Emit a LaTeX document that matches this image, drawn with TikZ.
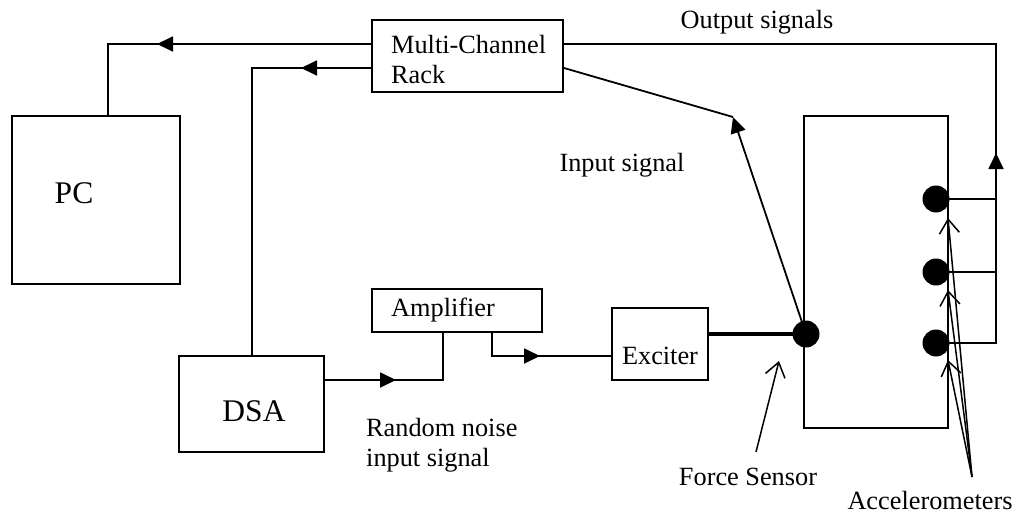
\documentclass[tikz,border=0pt]{standalone}
\usepackage{fontspec}
\setmainfont{Liberation Serif}
\usetikzlibrary{arrows.meta,decorations.markings,calc}
\begin{document}
\begin{tikzpicture}[x=1pt,y=-1pt,
  box/.style={draw,line width=2pt,inner sep=0pt},
  txt/.style={inner sep=0pt,font=\fontsize{26.3}{30}\selectfont},
  bigtxt/.style={inner sep=0pt,font=\fontsize{31.5}{36}\selectfont},
  wire/.style={line width=1.8pt},
  tri/.tip={Triangle[length=16pt,width=15pt]},
  midarrow/.style={postaction={decorate},decoration={markings,mark=at position #1 with {\arrow{tri}}}},
  dot/.style={circle,fill=black,inner sep=0pt,minimum size=27pt},
  openarr/.style={line width=1.5pt,-{Straight Barb[length=14pt,width=20pt,line width=1.5pt]}}
]
\useasboundingbox (0,0) rectangle (1018,515);
% boxes
\node[box,minimum width=168pt,minimum height=168pt] (pc) at (96,200) {};
\node[box,minimum width=191pt,minimum height=72pt] (mcr) at (467.5,56) {};
\node[box,minimum width=145pt,minimum height=96pt] (dsa) at (251.5,404) {};
\node[box,minimum width=170pt,minimum height=43pt] (amp) at (457,310.5) {};
\node[box,minimum width=96pt,minimum height=72pt] (exc) at (660,344) {};
\node[box,minimum width=144pt,minimum height=312pt] (struct) at (876,272) {};
% texts
\node[bigtxt] (pct) at (74,193) {PC};
\node[bigtxt] (dsat) at (254,411) {DSA};
\node[txt,anchor=west,align=left] (mcrt) at (391,59) {Multi-Channel\\Rack};
\node[txt,anchor=west] (ampt) at (391,310) {Amplifier};
\node[txt] (exct) at (660,356) {Exciter};
\node[txt] (outt) at (757,22) {Output signals};
\node[txt] (int) at (622,165) {Input signal};
\node[txt,anchor=west,align=left] (rnt) at (366,445) {Random noise\\input signal};
\node[txt] (fst) at (748,477) {Force Sensor};
\node[txt] (acct) at (930,500) {Accelerometers};
% sensors
\node[dot] (fs) at (806,334) {};
\node[dot] (a1) at (936,199) {};
\node[dot] (a2) at (936,272) {};
\node[dot] (a3) at (936,343) {};
% coordinates
\coordinate (c1) at (108,44);
\coordinate (c2) at (252,68);
\coordinate (c3) at (443,380);
\coordinate (c4) at (492,356);
\coordinate (c5) at (733,117);
\coordinate (c6) at (996,44);
\coordinate (fsa) at (779,361);
\coordinate (fsb) at (756,452);
\coordinate (acc) at (972,477);
\coordinate (t1) at (948,218);
\coordinate (t2) at (948,290);
\coordinate (t3) at (948,360);
% connectors
\draw[wire,midarrow=214pt] (mcr.west |- c1) -- (c1) -- (c1 |- pc.north);
\draw[wire,midarrow=70pt] (mcr.west |- c2) -- (c2) -- (c2 |- dsa.north);
\draw[wire,midarrow=71pt] (dsa.east |- c3) -- (c3) -- (c3 |- amp.south);
\draw[wire,midarrow=71pt] (c4 |- amp.south) -- (c4) -- (exc.west |- c4);
\draw[line width=4pt] (exc.east |- fs) -- (fs.center);
\draw[wire] (mcr.east |- c2) -- (c5);
\draw[wire,-{tri}] (fs.center) -- (c5);
\draw[wire] (a1.center) -- (a1 -| c6);
\draw[wire] (a2.center) -- (a2 -| c6);
\draw[wire,midarrow=250pt] (a3.center) -- (a3 -| c6) -- (c6) -- (mcr.east |- c6);
\draw[openarr] (fsb) -- (fsa);
\draw[openarr] (acc) -- (t1);
\draw[openarr] (acc) -- (t2);
\draw[openarr] (acc) -- (t3);
\end{tikzpicture}
\end{document}
